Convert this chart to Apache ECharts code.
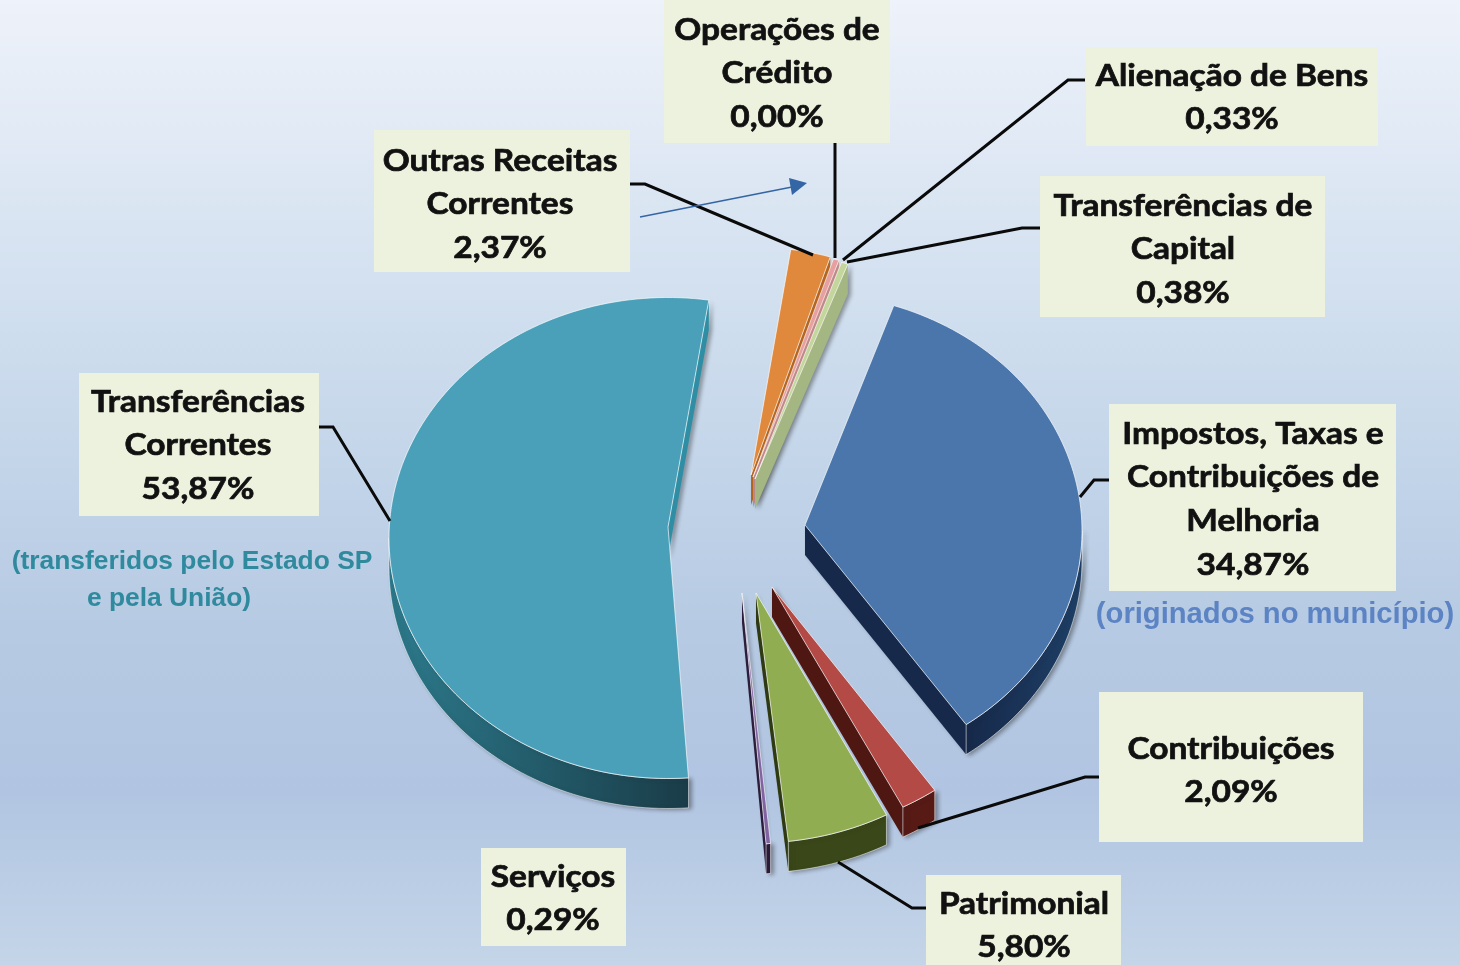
<!DOCTYPE html>
<html><head><meta charset="utf-8">
<style>html,body{margin:0;padding:0;background:#fff}#c{width:1460px;height:965px}</style>
<script src="https://cdn.jsdelivr.net/npm/echarts@6/dist/echarts.min.js"></script>
</head><body><div id="c"></div>
<script>
// ---- data ----
const categories = ['Impostos, Taxas e Contribuições de Melhoria','Contribuições','Patrimonial','Serviços','Transferências Correntes','Outras Receitas Correntes','Operações de Crédito','Alienação de Bens','Transferências de Capital'];
const values = [34.87, 2.09, 5.80, 0.29, 53.87, 2.37, 0.00, 0.33, 0.38];
const labelLines = [['Impostos, Taxas e','Contribuições de','Melhoria'],['Contribuições'],['Patrimonial'],['Serviços'],['Transferências','Correntes'],['Outras Receitas','Correntes'],['Operações de','Crédito'],['Alienação de Bens'],['Transferências de','Capital']];
const notes = [['(transferidos pelo Estado SP',192,562,'#2F8A9E',26.4],['e pela União)',169,599,'#2F8A9E',26.4],['(originados no município)',1275,615,'#5C84C4',29.2]];

// ---- layout / style ----
const startAngle = 19.5, depth = 30;
// exploded arc centre [x,y], radii [rx,ry]
const sliceGeom = [
  [805,531,277,238],[772,587,284,248],[756,593,283,250],[742,593,250,252],
  [668,538,279,240.5],[751,475,272,228],[752,476,275,228],[753,477,276,228],[755,479,278,228]
];
const apexDy = [-6,0,0,0,-11,0,0,0,0];
// small perspective corrections of the rim, degrees
const rimShift = [[-0.8,-0.6],[0,0],[0,0],[0,0],[1.3,0],[0,0],[0,0],[0,0],[0,0]];
const topCol  = ['#4A76AC','#B44A45','#91AD52','#8064A2','#4BA0B9','#E0883C','#E6A0A0','#E6A0A0','#C3D69B'];
const arcColL = ['#16294A','#571A15','#3A4718','#2B1D3B','#2C7A8C','#A86020','#A07070','#A07070','#A4B783'];
const arcColR = ['#1E3F66','#571A15','#3A4718','#2B1D3B','#1A3C48','#A86020','#A07070','#A07070','#A4B783'];
const radCol  = ['#17294A','#4E1712','#2F3A12','#2B1D3B','#2F8EA3','#B5651F','#C08888','#C08888','#A4B783'];
// box [x,y,w,h], text centre x, first line y
const boxes = [
  [1109,404,287,187,1253,434],[1099,692,264,150,1231,749],[926,875,195,90,1024,904],[481,848,145,98,553,877],
  [79,373,240,143,198,402],[374,130,256,142,500,161],[664,0,226,143,777,30],[1086,47,292,99,1232,76],[1040,176,285,141,1183,206]
];
const leaders = [
  [[1109,480],[1094,480],[1080,497]],[[1099,777],[1085,777],[918,828]],[[926,908],[912,908],[838,862]],null,
  [[319,427],[333,427],[390,521]],[[630,184],[645,184],[813,255]],[[835,143],[835,258]],[[1085,80],[1068,80],[843,260]],[[1040,228],[1022,228],[847,262]]
];
const FONT = 'Lato', LINE = 43.7, FS = 30, WIDEN = 1.115;

// ---- geometry from values ----
const spans = []; let cum = 0;
values.forEach((v,i) => { spans.push([startAngle + cum*3.6 + rimShift[i][0], startAngle + (cum+v)*3.6 + rimShift[i][1]]); cum += v; });
function pt(g,a){const r=a*Math.PI/180;return [g[0]+g[2]*Math.sin(r), g[1]-g[3]*Math.cos(r)];}
function arc(g,a0,a1){const n=Math.max(2,Math.ceil((a1-a0)/1.5)),o=[];for(let i=0;i<=n;i++)o.push(pt(g,a0+(a1-a0)*i/n));return o;}
const shadow = {shadowBlur:4,shadowOffsetX:3,shadowOffsetY:1,shadowColor:'rgba(40,40,40,0.45)'};
function down(p){return [p[0],p[1]+depth];}

function renderSlice(params, api){
  const i = api.value(0);
  if(!(values[i]>0)) return null;
  const g = sliceGeom[i], a0 = spans[i][0], a1 = spans[i][1];
  const apex = [g[0], g[1]+apexDy[i]];
  const top = arc(g,a0,a1);
  const kids = [];
  const edge = 'rgba(255,255,255,0.65)';
  const P0 = top[0], P1 = top[top.length-1];
  // radial walls facing the viewer
  if(P0[0]<apex[0]) kids.push({type:'polygon',shape:{points:[apex,P0,down(P0),down(apex)]},style:Object.assign({fill:radCol[i]},shadow)});
  if(P1[0]>apex[0]) kids.push({type:'polygon',shape:{points:[apex,P1,down(P1),down(apex)]},style:Object.assign({fill:radCol[i]},shadow)});
  // outer wall: the part of the rim facing down
  for(let k=0;k<2;k++){
    const lo=Math.max(a0,90+360*k), hi=Math.min(a1,270+360*k);
    if(hi>lo){
      const rim=arc(g,lo,hi);
      kids.push({type:'polygon',shape:{points:rim.concat(rim.map(down).reverse())},
        style:Object.assign({fill:new echarts.graphic.LinearGradient(0,0,1,0,[{offset:0,color:arcColL[i]},{offset:1,color:arcColR[i]}]),stroke:edge,lineWidth:0.8},shadow)});
    }
  }
  kids.push({type:'polygon',shape:{points:[apex].concat(top)},style:{fill:topCol[i],stroke:edge,lineWidth:1}});
  return {type:'group',children:kids};
}

// ---- annotation graphics ----
const gfx = [];
categories.forEach((c,i)=>{
  const b = boxes[i];
  if(leaders[i]) gfx.push({type:'polyline',z:20,shape:{points:leaders[i]},style:{stroke:'#0a0a0a',lineWidth:3,fill:null}});
  gfx.push({type:'rect',z:21,shape:{x:b[0],y:b[1],width:b[2],height:b[3]},style:{fill:'#ECF2DD'}});
  const lines = labelLines[i].concat([values[i].toFixed(2).replace('.',',')+'%']);
  lines.forEach((t,k)=>gfx.push({type:'text',z:22,x:b[4],y:b[5]+k*LINE,scaleX:WIDEN,
    style:{text:t,x:0,y:0,align:'center',verticalAlign:'middle',fontFamily:FONT,fontWeight:'bold',fontSize:FS,fill:'#111',stroke:'#111',lineWidth:0.7}}));
});
notes.forEach(n=>gfx.push({type:'text',z:22,style:{text:n[0],x:n[1],y:n[2],align:'center',verticalAlign:'middle',fontFamily:'Liberation Sans',fontWeight:'bold',fontSize:n[4],fill:n[3]}}));
gfx.push({type:'line',z:23,shape:{x1:640,y1:217,x2:792,y2:187},style:{stroke:'#3465A4',lineWidth:1.6}});
gfx.push({type:'polygon',z:23,shape:{points:[[807,183],[789,178],[792,195]]},style:{fill:'#3465A4'}});

const chart = echarts.init(document.getElementById('c'),null,{width:1460,height:965});
chart.setOption({
  animation:false,
  backgroundColor:{type:'linear',x:0,y:0,x2:0,y2:1,colorStops:[{offset:0,color:'#EEF2FA'},{offset:0.37,color:'#CCDCED'},{offset:0.65,color:'#B6CAE3'},{offset:0.82,color:'#B1C5E2'},{offset:1,color:'#C4D5E8'}]},
  series:[{type:'custom',coordinateSystem:'none',renderItem:renderSlice,silent:true,
    data:values.map((v,i)=>({name:categories[i],value:[i,v]}))}],
  graphic:gfx
});
</script></body></html>
